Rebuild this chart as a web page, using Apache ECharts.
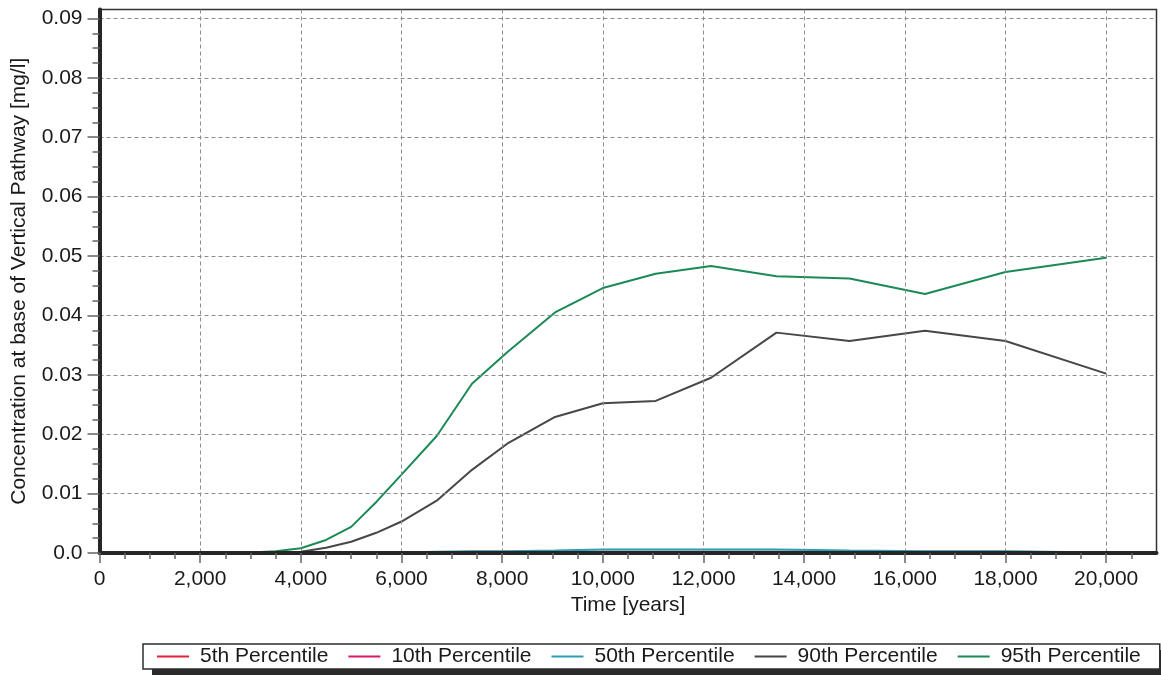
<!DOCTYPE html>
<html>
<head>
<meta charset="utf-8">
<title>Concentration at base of Vertical Pathway</title>
<script src="https://cdn.jsdelivr.net/npm/echarts@6/dist/echarts.min.js"></script>
<style>
  html, body { margin: 0; padding: 0; background: #ffffff; }
  #chart { width: 1161px; height: 675px; }
</style>
</head>
<body>
<div id="chart"></div>
<script>
// Simulation output times (years)
const times = [0, 1000, 2000, 3000, 3500, 4000, 4500, 5000, 5500, 6000, 6700, 7400,
               8100, 9050, 10000, 11050, 12150, 13450, 14900, 16400, 18000, 20000];

// Concentration percentiles (mg/l) at each output time
const p5  = [0, 0, 0, 0, 0, 0, 0, 0, 0, 0, 0, 0,
             0, 0, 0, 0, 0, 0, 0, 0, 0, 0];
const p10 = [0, 0, 0, 0, 0, 0, 0, 0, 0, 0, 0.0001, 0.0002,
             0.0002, 0.0002, 0.0002, 0.0002, 0.0002, 0.0002, 0.0002, 0.0002, 0.0002, 0.0001];
const p50 = [0, 0, 0, 0, 0, 0, 0, 0, 0, 0.0001, 0.0002, 0.0003,
             0.0003, 0.0004, 0.0006, 0.0006, 0.0006, 0.0006, 0.0004, 0.0003, 0.0003, 0.0001];
const p90 = [0, 0, 0, 0, 0, 0.0002, 0.0009, 0.0019, 0.0034, 0.0053, 0.0088, 0.0140,
             0.0184, 0.0229, 0.0252, 0.0256, 0.0295, 0.0371, 0.0357, 0.0374, 0.0357, 0.0302];
const p95 = [0, 0, 0, 0.0001, 0.0003, 0.0008, 0.0022, 0.0044, 0.0086, 0.0132, 0.0197, 0.0285,
             0.0338, 0.0405, 0.0446, 0.0470, 0.0483, 0.0466, 0.0462, 0.0436, 0.0473, 0.0497];

const seriesNames = ['5th Percentile', '10th Percentile', '50th Percentile', '90th Percentile', '95th Percentile'];
const seriesValues = [p5, p10, p50, p90, p95];
const seriesColors = ['#e3203a', '#d8186a', '#2b9fb3', '#474747', '#1b8a57'];

// Axis tick values
const yTicks = [0, 0.01, 0.02, 0.03, 0.04, 0.05, 0.06, 0.07, 0.08, 0.09];
const xTicks = [0, 2000, 4000, 6000, 8000, 10000, 12000, 14000, 16000, 18000, 20000];

const FONT = '"Liberation Sans", Arial, sans-serif';

const chart = echarts.init(document.getElementById('chart'), null, { renderer: 'canvas' });

const series = seriesNames.map((name, i) => ({
  name: name,
  type: 'line',
  symbol: 'none',
  smooth: false,
  data: times.map((t, k) => [t, seriesValues[i][k]]),
  lineStyle: { color: seriesColors[i], width: 2 },
  itemStyle: { color: seriesColors[i] },
  z: 2
}));

chart.setOption({
  animation: false,
  backgroundColor: '#ffffff',
  grid: {
    left: 99.5, right: 4.5, top: 9.5, bottom: 122,
    show: true,
    borderColor: '#333333',
    borderWidth: 1.5,
    backgroundColor: 'transparent'
  },
  // dark drop shadow under the legend box
  graphic: [{
    type: 'rect',
    left: 152, top: 650,
    shape: { width: 1012, height: 26 },
    style: { fill: '#2a2a2a' },
    z: 1
  }],
  xAxis: {
    type: 'value',
    min: 0,
    max: 21000,
    interval: 2000,
    z: 10,
    name: 'Time [years]',
    nameLocation: 'middle',
    nameGap: 41,
    nameTextStyle: { fontFamily: FONT, fontSize: 21, color: '#1a1a1a' },
    axisLine: { show: true, onZero: false, lineStyle: { color: '#262626', width: 4 } },
    axisTick: { show: true, length: 10, customValues: xTicks, lineStyle: { color: '#666666', width: 1.5 } },
    minorTick: { show: true, splitNumber: 4, length: 6, lineStyle: { color: '#666666', width: 1.5 } },
    axisLabel: {
      customValues: xTicks,
      margin: 16,
      fontFamily: FONT, fontSize: 21, color: '#1a1a1a',
      formatter: v => v.toLocaleString('en-US')
    },
    splitLine: { show: true, lineStyle: { color: '#8c8c8c', width: 1, type: [4, 3] } }
  },
  yAxis: {
    type: 'value',
    min: 0,
    max: 0.0915,
    interval: 0.01,
    z: 10,
    name: 'Concentration at base of Vertical Pathway [mg/l]',
    nameLocation: 'middle',
    nameGap: 70,
    nameTextStyle: { fontFamily: FONT, fontSize: 21, color: '#1a1a1a' },
    axisLine: { show: true, lineStyle: { color: '#262626', width: 4 } },
    axisTick: { show: true, length: 12, customValues: yTicks, lineStyle: { color: '#666666', width: 1.5 } },
    minorTick: { show: true, splitNumber: 4, length: 7, lineStyle: { color: '#666666', width: 1.5 } },
    axisLabel: {
      customValues: yTicks,
      margin: 17,
      fontFamily: FONT, fontSize: 21, color: '#1a1a1a',
      formatter: v => (v === 0 ? '0.0' : v.toFixed(2))
    },
    splitLine: { show: true, lineStyle: { color: '#8c8c8c', width: 1, type: [4, 3] } }
  },
  legend: {
    data: seriesNames,
    left: 143,
    top: 644,
    z: 5,
    orient: 'horizontal',
    icon: 'path://M0,0H32V2H0Z',
    itemWidth: 32,
    itemHeight: 14,
    itemGap: 20,
    padding: [2, 19, 2, 14],
    backgroundColor: '#ffffff',
    borderColor: '#2e2e2e',
    borderWidth: 1.5,
    textStyle: { fontFamily: FONT, fontSize: 21, color: '#1a1a1a', padding: [0, 0, 0, 6] }
  },
  series: series
});
</script>
</body>
</html>
